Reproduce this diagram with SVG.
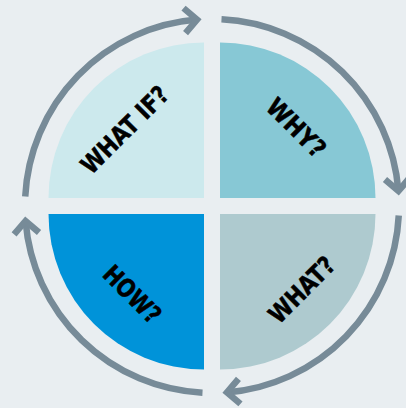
<svg xmlns="http://www.w3.org/2000/svg" width="406" height="408" viewBox="0 0 406 408">
  <style>
    .ring { fill: none; stroke: #778b98; stroke-width: 6.5; stroke-linecap: butt; }
    .head { fill: none; stroke: #778b98; stroke-width: 6.5; stroke-linecap: butt; stroke-linejoin: miter; }
    .label { font-family: "DejaVu Sans Condensed", "DejaVu Sans", "Liberation Sans", sans-serif; font-stretch: condensed; font-weight: bold; font-size: 25px; fill: #000; stroke: #000; stroke-width: 0.5; text-anchor: middle; }
  </style>
  <defs>
    <marker id="chevron" markerUnits="userSpaceOnUse" orient="auto" refX="0" refY="0" markerWidth="40" markerHeight="40" overflow="visible">
      <path class="head" d="M-12.5,-12.5 L0,0 L-12.5,12.5"/>
    </marker>
  </defs>

  <rect width="406" height="408" fill="#e9eef1"/>

  <!-- quarter segments -->
  <g id="what-if">
    <path d="M204,198 L48.5,198 A155.5,155.5 0 0 1 204,42.5 Z" fill="#cce9ed"/>
    <g transform="translate(124.5,129.5) rotate(-45)"><text class="label" x="0" y="9.1" textLength="112" lengthAdjust="spacingAndGlyphs">WHAT IF?</text></g>
  </g>
  <g id="why">
    <path d="M220,198 L220,42.5 A155.5,155.5 0 0 1 375.5,198 Z" fill="#87c8d5"/>
    <g transform="translate(296.5,127.5) rotate(45)"><text class="label" x="0" y="9.1" textLength="72" lengthAdjust="spacingAndGlyphs">WHY?</text></g>
  </g>
  <g id="what">
    <path d="M220,214 L375.5,214 A155.5,155.5 0 0 1 220,369.5 Z" fill="#aecacf"/>
    <g transform="translate(301.5,289.5) rotate(-45)"><text class="label" x="0" y="9.1" textLength="82" lengthAdjust="spacingAndGlyphs">WHAT?</text></g>
  </g>
  <g id="how">
    <path d="M204,214 L204,369.5 A155.5,155.5 0 0 1 48.5,214 Z" fill="#0093d9"/>
    <g transform="translate(132.5,294) rotate(45)"><text class="label" x="0" y="9.1" textLength="70" lengthAdjust="spacingAndGlyphs">HOW?</text></g>
  </g>

  <!-- cycle arrows around the circle -->
  <g id="connectors">
    <path class="ring" marker-end="url(#chevron)" d="M25.24,196.5 A187,187 0 0 1 197,19.56"/>
    <path class="ring" marker-end="url(#chevron)" d="M221.5,19.24 A187,187 0 0 1 398.44,191"/>
    <path class="ring" marker-end="url(#chevron)" d="M398.76,215.5 A187,187 0 0 1 227,392.44"/>
    <path class="ring" marker-end="url(#chevron)" d="M202.5,392.76 A187,187 0 0 1 25.56,221"/>
  </g>
</svg>
